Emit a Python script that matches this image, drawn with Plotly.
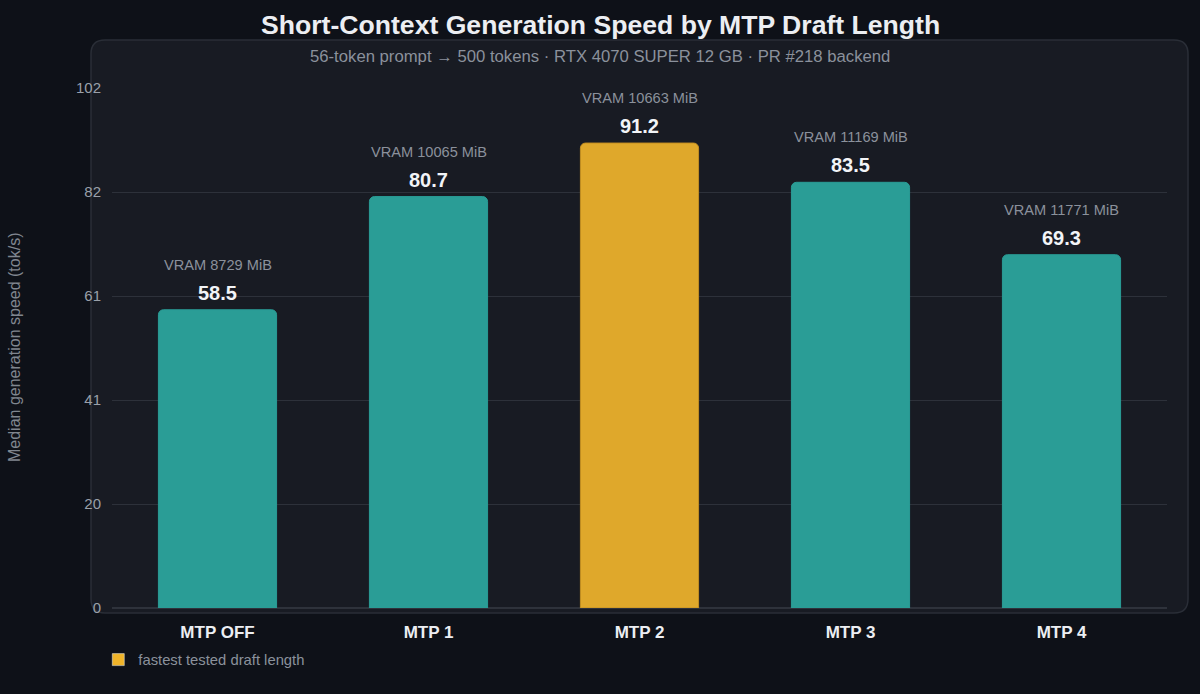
import plotly.graph_objects as go

# Data
labels = ["MTP OFF", "MTP 1", "MTP 2", "MTP 3", "MTP 4"]
speed = [58.5, 80.7, 91.2, 83.5, 69.3]
vram_mib = [8729, 10065, 10663, 11169, 11771]
fastest = "MTP 2"

tick_vals = [0, 20.4, 40.8, 61.2, 81.6, 102]
tick_text = ["0", "20", "41", "61", "82", "102"]

TEAL = "#2a9d96"
GOLD = "#dfa82b"
FONT = "Liberation Sans, Arial, sans-serif"

# plot area in pixels: x 112..1167, y 88..608
W, H = 1200, 694
L, R, T, B = 112, 33, 88, 86
pw, ph = W - L - R, H - T - B


def px_x(p):
    return (p - L) / pw


def px_y(p):
    return (H - B - p) / ph


colors = [GOLD if c == fastest else TEAL for c in labels]
lines = ["#c38f22" if c == fastest else TEAL for c in labels]

fig = go.Figure()
fig.add_trace(go.Bar(x=labels, y=speed, width=0.56,
                     marker=dict(color=colors, cornerradius=5,
                                 line=dict(color=lines, width=1)),
                     showlegend=False, hoverinfo="x+y"))
# legend-only entry
fig.add_trace(go.Bar(x=[labels[0]], y=[None], name="fastest tested draft length",
                     marker=dict(color="#f0b429"), showlegend=True))

for c, v, m in zip(labels, speed, vram_mib):
    fig.add_annotation(x=c, y=v, text=f"<b>{v:.1f}</b>", showarrow=False,
                       yanchor="middle", yshift=17,
                       font=dict(size=20, color="#f2f4f7", family=FONT))
    fig.add_annotation(x=c, y=v, text=f"VRAM {m} MiB", showarrow=False,
                       yanchor="middle", yshift=45,
                       font=dict(size=14.6, color="#8b919c", family=FONT))

# rounded panel behind the plot
x0, x1 = px_x(91), px_x(1188)
y0, y1 = px_y(613), px_y(40)
rx, ry = 14 / pw, 14 / ph
panel = (f"M {x0+rx},{y1} L {x1-rx},{y1} Q {x1},{y1} {x1},{y1-ry} "
         f"L {x1},{y0+ry} Q {x1},{y0} {x1-rx},{y0} L {x0+rx},{y0} "
         f"Q {x0},{y0} {x0},{y0+ry} L {x0},{y1-ry} Q {x0},{y1} {x0+rx},{y1} Z")
fig.add_shape(type="path", path=panel, xref="paper", yref="paper",
              fillcolor="#181b23", line=dict(color="#2a2e37", width=1.5), layer="below")

fig.add_annotation(x=px_x(600), y=px_y(25), xref="paper", yref="paper",
                   xanchor="center", yanchor="middle",
                   text="<b>Short-Context Generation Speed by MTP Draft Length</b>",
                   showarrow=False, font=dict(size=26.6, color="#eceef2", family=FONT))
fig.add_annotation(x=px_x(600), y=px_y(56), xref="paper", yref="paper",
                   xanchor="center", yanchor="middle",
                   text="56-token prompt → 500 tokens · RTX 4070 SUPER 12 GB · PR #218 backend",
                   showarrow=False, font=dict(size=16.7, color="#8b919c", family=FONT))
fig.add_annotation(x=px_x(14), y=0.5, xref="paper", yref="paper", textangle=-90,
                   xanchor="center", yanchor="middle",
                   text="Median generation speed (tok/s)", showarrow=False,
                   font=dict(size=16, color="#80868f", family=FONT))

fig.update_layout(
    width=W, height=H,
    margin=dict(l=L, r=R, t=T, b=B),
    paper_bgcolor="#0e1118", plot_bgcolor="rgba(0,0,0,0)",
    font=dict(family=FONT),
    barmode="overlay",
    legend=dict(orientation="h", x=-0.013, xanchor="left", y=px_y(660), yanchor="middle",
                font=dict(size=14.8, color="#8b919c", family=FONT),
                bgcolor="rgba(0,0,0,0)"),
    xaxis=dict(showgrid=False, zeroline=False, showline=False, ticks="",
               tickfont=dict(size=17, color="#eceef2", family=FONT),
               ticklabelstandoff=12, tickprefix="<b>", ticksuffix="</b>"),
    yaxis=dict(range=[0, 102], tickvals=tick_vals, ticktext=tick_text,
               showgrid=True, gridcolor="#2d313a", gridwidth=1,
               zeroline=True, zerolinecolor="#2e323b", zerolinewidth=2,
               showline=False, ticks="", ticklabelstandoff=10,
               tickfont=dict(size=15, color="#9aa0a9", family=FONT)),
)

fig.write_html("out.html", config={"displayModeBar": False},
               post_script="document.body.style.margin='0';document.body.style.background='#0e1118';")
